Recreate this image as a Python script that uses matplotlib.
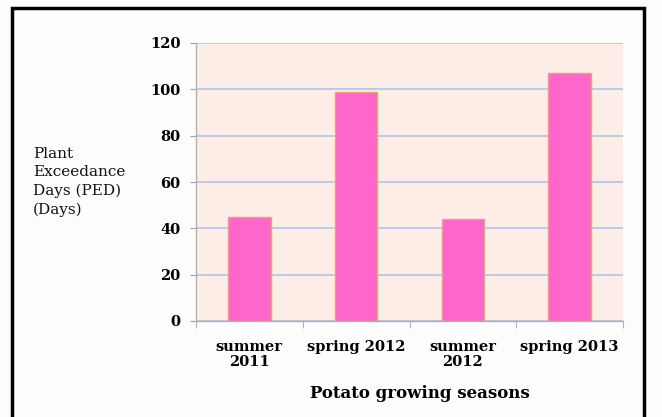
import matplotlib.pyplot as plt
from matplotlib.patches import Rectangle

seasons = ["summer\n2011", "spring 2012", "summer\n2012", "spring 2013"]
ped_days = [45, 99, 44, 107]
y_ticks = [0, 20, 40, 60, 80, 100, 120]

plt.rcParams['font.family'] = ['DejaVu Serif']

W, H = 662, 417
fig = plt.figure(figsize=(W / 100, H / 100), dpi=100)
fig.patch.set_facecolor('#fdfdfd')

# outer black frame (open at bottom)
frame = Rectangle((12 / W, -0.05), (644 - 12) / W, (H - 8) / H + 0.05,
                  transform=fig.transFigure, fill=False, edgecolor='black',
                  linewidth=2.5, zorder=10)
fig.patches.append(frame)

left, right, top, bottom = 196, 623, 43, 321
ax = fig.add_axes([left / W, 1 - bottom / H, (right - left) / W, (bottom - top) / H])
ax.set_facecolor('#fcede6')

x = range(len(seasons))
ax.bar(x, ped_days, width=0.4, color='#ff66cc', edgecolor='#e3a37f',
       linewidth=1.0, zorder=3)

ax.set_xlim(-0.5, len(seasons) - 0.5)
ax.set_ylim(0, 120)
ax.set_yticks(y_ticks)
ax.set_yticklabels([str(v) for v in y_ticks], fontweight='bold', fontsize=10.5)
ax.yaxis.grid(True, color='#b9c7e4', linewidth=1.3, zorder=1)
ax.set_axisbelow(True)

ax.set_xticks([i for i in x])
ax.set_xticklabels(seasons, fontweight='bold', fontsize=10.5, linespacing=1.05)
ax.tick_params(axis='x', length=0, pad=14)
ax.set_xticks([i - 0.5 for i in range(len(seasons) + 1)], minor=True)
ax.tick_params(axis='x', which='minor', length=5, color='#a0a0a0', direction='out')
ax.tick_params(axis='y', length=4, color='#a0a0a0', direction='out', pad=7)

for s in ['top', 'right']:
    ax.spines[s].set_visible(False)
for s in ['left', 'bottom']:
    ax.spines[s].set_color('#b0b0b0')
    ax.spines[s].set_linewidth(1.0)

fig.text(33 / W, 1 - 147 / H, "Plant\nExceedance\nDays (PED)\n(Days)",
         ha='left', va='top', fontsize=11, linespacing=1.38, color='#111111')
fig.text(420 / W, 1 - 393 / H, "Potato growing seasons", ha='center',
         va='center', fontsize=12, fontweight='bold')

fig.savefig('out.png', dpi=100, facecolor=fig.get_facecolor())
